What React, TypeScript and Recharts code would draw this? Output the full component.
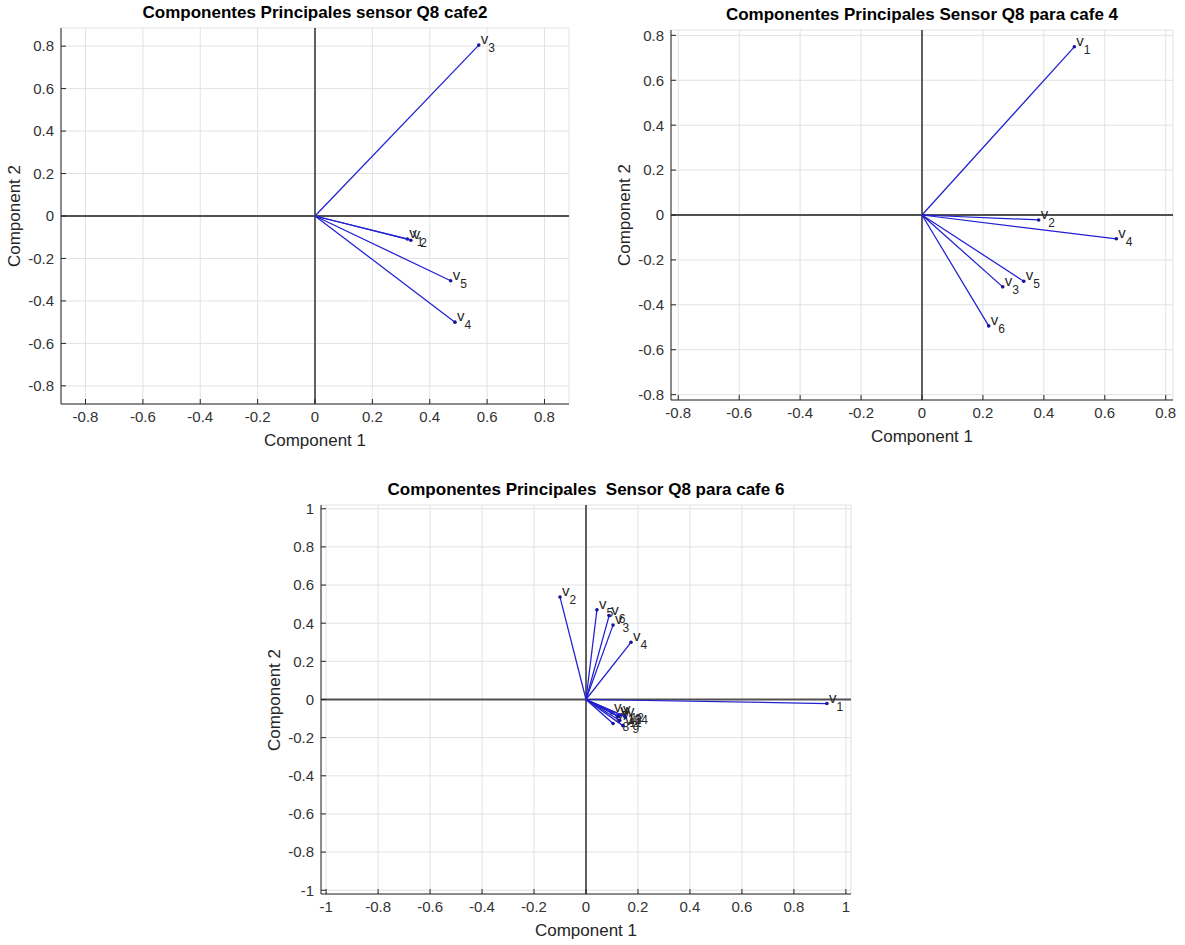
import React from 'react';
import { ScatterChart, Scatter, XAxis, YAxis, CartesianGrid, ReferenceLine } from 'recharts';

const FONT = '"Liberation Sans", Arial, Helvetica, sans-serif';

// Chart 1
const chart1Title = 'Componentes Principales sensor Q8 cafe2';
const chart1Names = ['1', '2', '3', '4', '5'];
const chart1X = [0.322, 0.334, 0.571, 0.488, 0.473];
const chart1Y = [-0.108, -0.114, 0.805, -0.5, -0.305];
const chart1Ticks = [-0.8, -0.6, -0.4, -0.2, 0, 0.2, 0.4, 0.6, 0.8];

// Chart 2
const chart2Title = 'Componentes Principales Sensor Q8 para cafe 4';
const chart2Names = ['1', '2', '3', '4', '5', '6'];
const chart2X = [0.5, 0.383, 0.265, 0.638, 0.334, 0.219];
const chart2Y = [0.749, -0.022, -0.32, -0.106, -0.295, -0.494];
const chart2Ticks = [-0.8, -0.6, -0.4, -0.2, 0, 0.2, 0.4, 0.6, 0.8];

// Chart 3
const chart3Title = 'Componentes Principales  Sensor Q8 para cafe 6';
const chart3Names = ['1', '2', '3', '4', '5', '6', '7', '8', '9', '10', '11', '12', '13', '14'];
const chart3X = [0.927, -0.1, 0.104, 0.173, 0.042, 0.089, 0.1, 0.104, 0.142, 0.125, 0.13, 0.135, 0.125, 0.15];
const chart3Y = [-0.021, 0.537, 0.39, 0.3, 0.47, 0.44, -0.07, -0.126, -0.137, -0.085, -0.11, -0.08, -0.09, -0.09];
const chart3Ticks = [-1, -0.8, -0.6, -0.4, -0.2, 0, 0.2, 0.4, 0.6, 0.8, 1];

const fmt = (v: number) => String(Number(v.toFixed(1)));

const VecShape = (props: any) => {
  const { cx, cy, payload } = props;
  if (!payload || !payload.n) return <g />;
  return (
    <g>
      <circle cx={cx} cy={cy} r={1.8} fill="#14149a" />
      <text x={cx + 2} y={cy - 1} fontSize={15} fill="#262626" fontFamily={FONT}>
        v
        <tspan fontSize={12} dy={8}>{payload.n}</tspan>
      </text>
    </g>
  );
};

type BiplotProps = {
  title: string;
  names: string[];
  xs: number[];
  ys: number[];
  ticks: number[];
  plotLeft: number;
  plotTop: number;
  plotW: number;
  plotH: number;
};

const ML = 70;
const MT = 10;
const MR = 20;
const MB = 40;
const YW = 50;
const XH = 30;

function Biplot({ title, names, xs, ys, ticks, plotLeft, plotTop, plotW, plotH }: BiplotProps) {
  const maxAbs = Math.max(...xs.map(Math.abs), ...ys.map(Math.abs));
  const lim = maxAbs * 1.1;
  const domain: [number, number] = [-lim, lim];
  const width = ML + plotW + MR;
  const height = MT + plotH + MB;
  return (
    <>
      <div
        style={{
          position: 'absolute',
          left: plotLeft + plotW / 2 - 300,
          width: 600,
          top: plotTop - 25,
          textAlign: 'center',
          fontFamily: FONT,
          fontWeight: 'bold',
          fontSize: 17,
          lineHeight: '20px',
          color: '#000',
          whiteSpace: 'pre',
        }}
      >
        {title}
      </div>
      <div
        style={{
          position: 'absolute',
          left: plotLeft + plotW / 2 - 150,
          width: 300,
          top: plotTop + plotH + 27,
          textAlign: 'center',
          fontFamily: FONT,
          fontSize: 17,
          lineHeight: '20px',
          color: '#262626',
        }}
      >
        Component 1
      </div>
      <div
        style={{
          position: 'absolute',
          left: plotLeft - 46 - 150,
          width: 300,
          top: plotTop + plotH / 2 - 10,
          textAlign: 'center',
          fontFamily: FONT,
          fontSize: 17,
          lineHeight: '20px',
          color: '#262626',
          transform: 'rotate(-90deg)',
        }}
      >
        Component 2
      </div>
      <div style={{ position: 'absolute', left: plotLeft - ML, top: plotTop - MT }}>
        <ScatterChart
          width={width}
          height={height}
          margin={{ top: MT, right: MR, left: ML - YW, bottom: MB - XH }}
        >
          <CartesianGrid stroke="#e2e2e2" strokeWidth={1} />
          <XAxis
            type="number"
            dataKey="x"
            domain={domain}
            ticks={ticks}
            allowDataOverflow
            interval={0}
            height={XH}
            tickSize={-5}
            tickMargin={12}
            stroke="#262626"
            tick={{ fill: '#333333', fontSize: 15, fontFamily: FONT }}
            tickFormatter={fmt}
          />
          <YAxis
            type="number"
            dataKey="y"
            domain={domain}
            ticks={ticks}
            allowDataOverflow
            interval={0}
            width={YW}
            tickSize={-5}
            tickMargin={12}
            stroke="#262626"
            tick={{ fill: '#333333', fontSize: 15, fontFamily: FONT }}
            tickFormatter={fmt}
          />
          <ReferenceLine x={0} stroke="#505050" strokeWidth={1.8} />
          <ReferenceLine y={0} stroke="#505050" strokeWidth={1.8} />
          {names.map((n, i) => (
            <Scatter
              key={n}
              data={[
                { x: 0, y: 0, n: '' },
                { x: xs[i], y: ys[i], n },
              ]}
              line={{ stroke: '#2020d0', strokeWidth: 1.25 }}
              shape={VecShape}
              isAnimationActive={false}
            />
          ))}
        </ScatterChart>
      </div>
    </>
  );
}

export default function App() {
  return (
    <div
      style={{
        position: 'absolute',
        left: 0,
        top: 0,
        width: 1185,
        height: 945,
        background: '#fff',
        overflow: 'hidden',
      }}
    >
      <Biplot
        title={chart1Title}
        names={chart1Names}
        xs={chart1X}
        ys={chart1Y}
        ticks={chart1Ticks}
        plotLeft={61}
        plotTop={28}
        plotW={508}
        plotH={376}
      />
      <Biplot
        title={chart2Title}
        names={chart2Names}
        xs={chart2X}
        ys={chart2Y}
        ticks={chart2Ticks}
        plotLeft={671}
        plotTop={30}
        plotW={502}
        plotH={370}
      />
      <Biplot
        title={chart3Title}
        names={chart3Names}
        xs={chart3X}
        ys={chart3Y}
        ticks={chart3Ticks}
        plotLeft={321}
        plotTop={505}
        plotW={530}
        plotH={389}
      />
    </div>
  );
}
